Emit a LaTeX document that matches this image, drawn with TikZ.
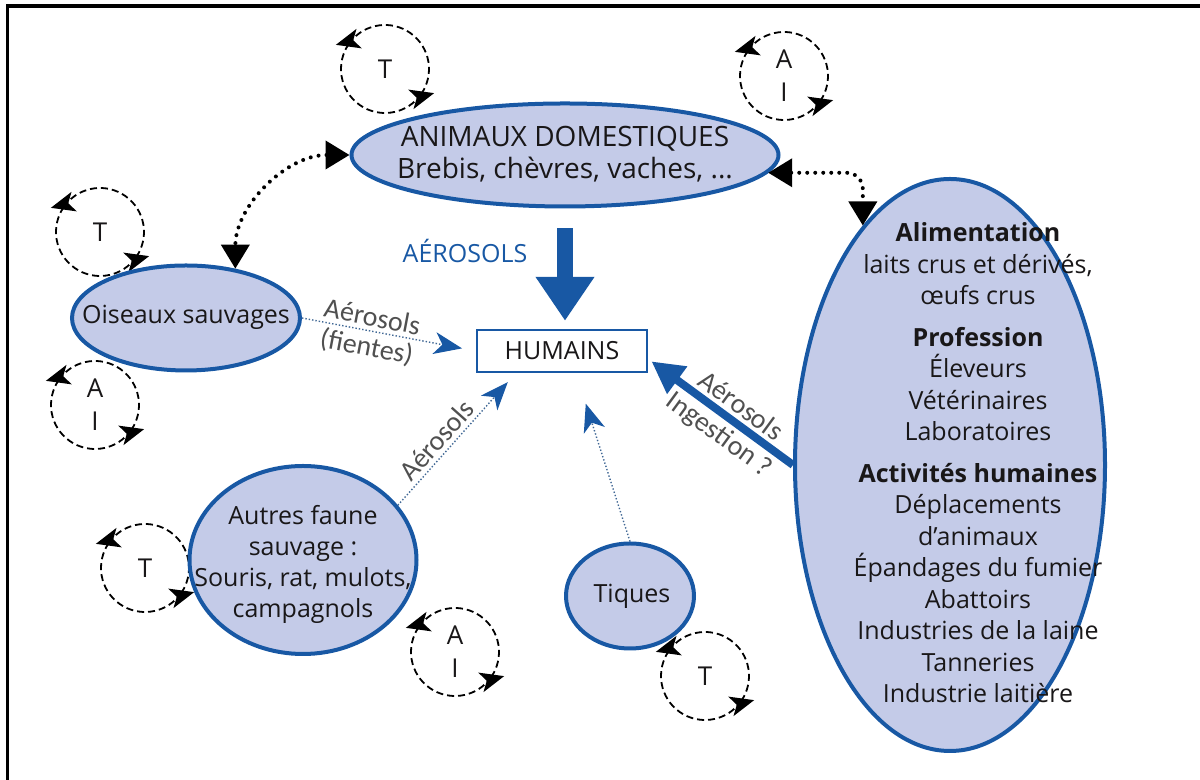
\documentclass[tikz,border=0pt]{standalone}
\usepackage{fontspec}
\setmainfont{Open Sans}
\newfontfamily\labelfont{Carlito}
\usetikzlibrary{arrows.meta,calc,positioning,shapes.geometric}
\definecolor{zoonblue}{RGB}{24,88,164}
\definecolor{zoonfill}{RGB}{196,203,232}
\definecolor{zoonink}{RGB}{25,23,24}
\definecolor{zoongrey}{RGB}{80,80,80}

\newcommand{\hostcycle}[4]{%
  \draw[cycarc] (#2,#3) ++(-35:44) arc (-35:140:44) -- ++(195:16);
  \draw[cycarc] (#2,#3) ++(145:44) arc (145:320:44) -- ++(15:16);
  \node[cyctxt] (#1) at (#2,#3) {#4};
}

\begin{document}
\begin{tikzpicture}[x=0.5pt, y=0.5pt,
    blob/.style={ellipse, draw=zoonblue, line width=2pt, fill=zoonfill, inner sep=0pt},
    txt/.style={font=\fontsize{12.5}{16}\selectfont, text=zoonink, align=center},
    lbl/.style={font=\labelfont\fontsize{14}{16}\selectfont, text=zoongrey, inner sep=2pt},
    cycarc/.style={line width=0.9pt, dash pattern=on 3.5pt off 2pt, -{Stealth[length=12pt,width=10pt,inset=3pt]}},
    cyctxt/.style={font=\fontsize{13}{16.5}\selectfont, text=zoonink, align=center},
    dotlink/.style={line width=2pt, line cap=round, dash pattern=on 0pt off 4pt, {Triangle[length=12pt,width=14pt]}-{Triangle[length=12pt,width=14pt]}},
    thinarr/.style={draw=zoonblue!60!gray, line width=0.7pt, densely dotted, -{Stealth[length=14pt,width=11pt,inset=4pt,color=zoonblue]}},
    thickarr/.style={draw=zoonblue, line width=4pt, {Triangle[length=16pt,width=16pt]}-},
    bigarr/.style={draw=zoonblue, line width=8pt, -{Triangle[length=22pt,width=28pt]}}
  ]
  \useasboundingbox (0,0) rectangle (1200,780);
  \draw[line width=1.75pt] (7.5,0) -- (7.5,774) -- (1200,774);

  % cycles
  \hostcycle{cycT1}{385}{711}{T}
  \hostcycle{cycA1}{784}{704}{A\\I}
  \hostcycle{cycT2}{100}{548}{T}
  \hostcycle{cycA2}{95}{375}{A\\I}
  \hostcycle{cycT3}{145}{212}{T}
  \hostcycle{cycA3}{455}{128}{A\\I}
  \hostcycle{cycT4}{705}{104}{T}

  % domestic animals
  \node[blob, minimum width=213.5pt, minimum height=51.5pt] (anim) at (565,625) {};
  \node[txt, font=\fontsize{14}{16}\selectfont] (animtxt) at (565,626) {ANIMAUX DOMESTIQUES\\Brebis, chèvres, vaches, ...};

  % wild birds
  \node[blob, minimum width=114pt, minimum height=52.5pt] (ois) at (186,462) {};
  \node[txt] (oistxt) at (186,463) {Oiseaux sauvages};

  % other wildlife
  \node[blob, minimum width=113.5pt, minimum height=94pt] (autres) at (303,220) {};
  \node[txt, font=\fontsize{12.5}{15.5}\selectfont] (autrestxt) at (303,216) {Autres faune\\sauvage :\\Souris, rat, mulots,\\campagnols};

  % ticks
  \node[blob, minimum width=64pt, minimum height=52.5pt] (tiques) at (630,184) {};
  \node[txt] (tiquestxt) at (632,184) {Tiques};

  % humans
  \node[txt, draw=zoonblue, line width=1.2pt, fill=white, minimum width=85pt, minimum height=21pt, inner sep=0pt] (hum) at (562,429) {HUMAINS};

  % exposure
  \node[blob, minimum width=155pt, minimum height=286pt] (alim) at (950,315) {};
  \node[txt, font=\fontsize{12.5}{15.75}\selectfont] (alimtxt) at (978,317) {%
    \textbf{Alimentation}\\laits crus et dérivés,\\œufs crus\\[5pt]
    \textbf{Profession}\\Éleveurs\\Vétérinaires\\Laboratoires\\[5pt]
    \textbf{Activités humaines}\\Déplacements\\d'animaux\\Épandages du fumier\\Abattoirs\\Industries de la laine\\Tanneries\\Industrie laitière};

  % links
  \draw[bigarr, shorten <=10pt, shorten >=4pt] (anim.south) -- (anim.south |- hum.north);
  \node[txt, text=zoonblue] (aeroslbl) at (465,529) {AÉROSOLS};

  \draw[thinarr, shorten >=7pt] (ois.east) -- (hum.west)
    node[lbl, sloped, above, pos=0.39] (oislbl) {Aérosols}
    node[lbl, sloped, below, pos=0.39] (oislbl2) {(fientes)};
  \draw[thinarr, shorten >=6pt] (autres.30) -- ([xshift=20pt]hum.south west)
    node[lbl, sloped, above, pos=0.42] (autreslbl) {Aérosols};
  \draw[thinarr, shorten >=16pt] (tiques.north) -- ([xshift=7pt]hum.south);
  \draw[thickarr, shorten <=2pt] ([yshift=-4pt]hum.east) -- (alim.west)
    node[lbl, sloped, above, pos=0.57] (alimlbl) {Aérosols}
    node[lbl, sloped, below, pos=0.57] (alimlbl2) {Ingestion ?};

  \draw[dotlink] (anim.west) to[out=180, in=90] (ois.45);
  \draw[dotlink, rounded corners=8pt] (anim.-5) -| (alim.110);
\end{tikzpicture}
\end{document}
